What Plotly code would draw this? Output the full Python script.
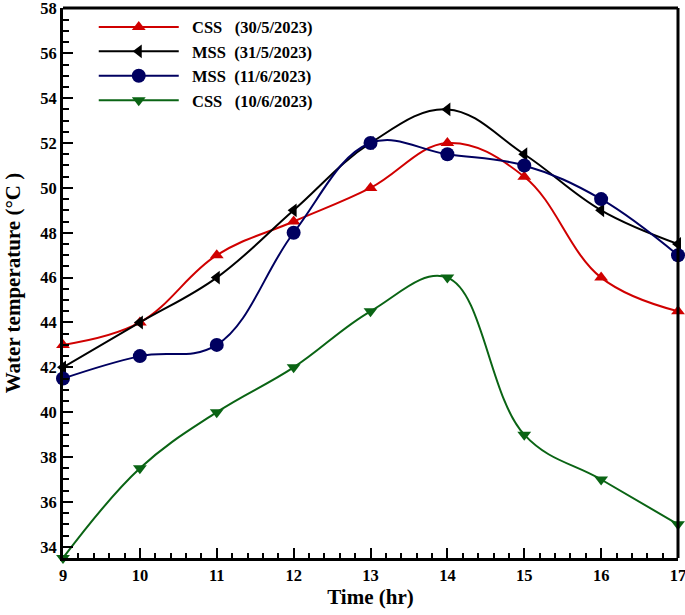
import plotly.graph_objects as go

hours = [9, 10, 11, 12, 13, 14, 15, 16, 17]
css_30_5 = [43, 44, 47, 48.5, 50, 52, 50.5, 46, 44.5]
mss_31_5 = [42, 44, 46, 49, 52, 53.5, 51.5, 49, 47.5]
mss_11_6 = [41.5, 42.5, 43, 48, 52, 51.5, 51, 49.5, 47]
css_10_6 = [33.5, 37.5, 40, 42, 44.5, 46, 39, 37, 35]
y_ticks = [34, 36, 38, 40, 42, 44, 46, 48, 50, 52, 54, 56, 58]

NB = "\u00a0"
series = [
    (f"{NB*2}CSS{NB*3}(30/5/2023)", css_30_5, "#d00000", "triangle-up", 12),
    (f"{NB*2}MSS{NB*2}(31/5/2023)", mss_31_5, "#000000", "triangle-left", 12),
    (f"{NB*2}MSS{NB*2}(11/6/2023)", mss_11_6, "#000060", "circle", 14),
    (f"{NB*2}CSS{NB*3}(10/6/2023)", css_10_6, "#0a6414", "triangle-down", 12),
]

fig = go.Figure()
for name, ys, col, sym, sz in series:
    fig.add_trace(go.Scatter(
        x=hours, y=ys, name=name, mode="lines+markers",
        line=dict(color=col, width=2, shape="spline", smoothing=1.1),
        marker=dict(symbol=sym, size=sz, color=col),
        cliponaxis=False,
    ))

font = "Liberation Serif"
fig.update_layout(
    width=685, height=615,
    margin=dict(l=63, r=7, t=8, b=57, autoexpand=False),
    paper_bgcolor="white", plot_bgcolor="white",
    font=dict(family=font, size=16, color="black"),
    showlegend=True,
    legend=dict(x=0.05, y=0.997, xanchor="left", yanchor="top",
                bgcolor="rgba(0,0,0,0)", itemwidth=80,
                font=dict(family=font, size=16.5, color="black", weight="bold"),
                tracegroupgap=0),
    shapes=[
        dict(type="line", xref="paper", yref="paper", x0=0, x1=1, y0=1, y1=1,
             line=dict(color="black", width=3)),
        dict(type="line", xref="paper", yref="paper", x0=1, x1=1, y0=0, y1=1,
             line=dict(color="black", width=3)),
    ],
)
fig.update_xaxes(
    range=[9, 17], tickmode="array", tickvals=hours,
    ticks="inside", ticklen=10, tickwidth=2, tickcolor="black",
    minor=dict(ticks="inside", dtick=0.2, ticklen=5, tickwidth=1.5, tickcolor="black"),
    showline=True, linecolor="black", linewidth=3, showgrid=False, zeroline=False,
    tickfont=dict(family=font, size=16.5, weight="bold"),
    ticklabeloverflow="allow",
    title=dict(text="<b>Time (hr)</b>", font=dict(family=font, size=21), standoff=2),
    automargin=False,
)
fig.update_yaxes(
    range=[33.5, 58.02], tickmode="array", tickvals=y_ticks,
    ticks="inside", ticklen=10, tickwidth=2, tickcolor="black",
    minor=dict(ticks="inside", dtick=0.5, ticklen=6, tickwidth=1.5, tickcolor="black"),
    showline=True, linecolor="black", linewidth=3, showgrid=False, zeroline=False,
    tickfont=dict(family=font, size=16.5, weight="bold"),
    ticklabeloverflow="allow",
    title=dict(text="<b>Water temperature (°C )</b>", font=dict(family=font, size=21), standoff=14),
    automargin=False,
)
fig.write_html("out.html", config={"displayModeBar": False},
               post_script="document.body.style.margin='0';")
